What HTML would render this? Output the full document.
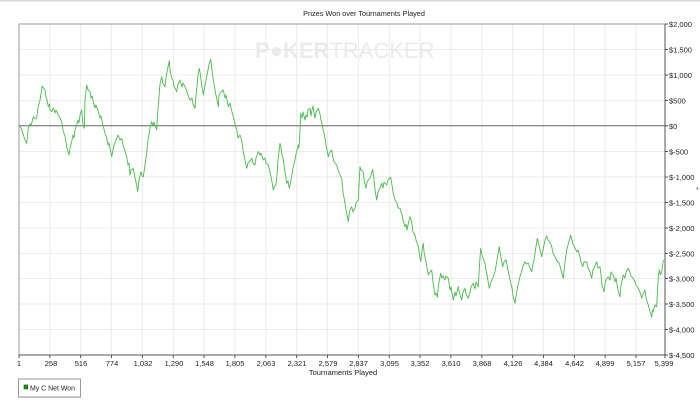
<!DOCTYPE html>
<html><head><meta charset="utf-8">
<style>
html,body{margin:0;padding:0;background:#fff;}
body{width:700px;height:406px;overflow:hidden;position:relative;font-family:"Liberation Sans",Arial,sans-serif;}
svg{position:absolute;left:0;top:0;}
</style></head>
<body>
<svg width="700" height="406" viewBox="0 0 700 406" xmlns="http://www.w3.org/2000/svg" font-family="Liberation Sans, Arial, sans-serif">
<rect x="0" y="0" width="700" height="406" fill="#fff"/>
<rect x="0" y="0" width="700" height="1.5" fill="#d8d8d8"/>
<text x="364" y="16" font-size="7.3" text-anchor="middle" fill="#222">Prizes Won over Tournaments Played</text>
<!-- grid -->
<g stroke="#ececec" stroke-width="1">
<line x1="19" y1="49.5" x2="665" y2="49.5"/>
<line x1="19" y1="75" x2="665" y2="75"/>
<line x1="19" y1="100.5" x2="665" y2="100.5"/>
<line x1="19" y1="151.5" x2="665" y2="151.5"/>
<line x1="19" y1="177" x2="665" y2="177"/>
<line x1="19" y1="202.5" x2="665" y2="202.5"/>
<line x1="19" y1="228" x2="665" y2="228"/>
<line x1="19" y1="253.5" x2="665" y2="253.5"/>
<line x1="19" y1="278.5" x2="665" y2="278.5"/>
<line x1="19" y1="304" x2="665" y2="304"/>
<line x1="19" y1="329.5" x2="665" y2="329.5"/>
<line x1="49.8" y1="24" x2="49.8" y2="355"/>
<line x1="80.6" y1="24" x2="80.6" y2="355"/>
<line x1="111.5" y1="24" x2="111.5" y2="355"/>
<line x1="142.4" y1="24" x2="142.4" y2="355"/>
<line x1="173.3" y1="24" x2="173.3" y2="355"/>
<line x1="204.1" y1="24" x2="204.1" y2="355"/>
<line x1="234.9" y1="24" x2="234.9" y2="355"/>
<line x1="265.8" y1="24" x2="265.8" y2="355"/>
<line x1="296.6" y1="24" x2="296.6" y2="355"/>
<line x1="327.5" y1="24" x2="327.5" y2="355"/>
<line x1="358.4" y1="24" x2="358.4" y2="355"/>
<line x1="389.3" y1="24" x2="389.3" y2="355"/>
<line x1="420" y1="24" x2="420" y2="355"/>
<line x1="450.9" y1="24" x2="450.9" y2="355"/>
<line x1="481.8" y1="24" x2="481.8" y2="355"/>
<line x1="512.6" y1="24" x2="512.6" y2="355"/>
<line x1="543.5" y1="24" x2="543.5" y2="355"/>
<line x1="574.4" y1="24" x2="574.4" y2="355"/>
<line x1="605.1" y1="24" x2="605.1" y2="355"/>
<line x1="636" y1="24" x2="636" y2="355"/>
</g>
<!-- watermark -->
<text x="255" y="58" font-size="22" font-weight="bold" fill="#ebebeb">P<tspan>●</tspan>KER<tspan font-weight="normal">TRACKER</tspan></text>
<!-- frame -->
<rect x="19" y="24" width="646" height="331" fill="none" stroke="#9a9a9a" stroke-width="1"/>
<line x1="665" y1="24" x2="665" y2="355" stroke="#555" stroke-width="1"/>
<line x1="19" y1="355" x2="665" y2="355" stroke="#555" stroke-width="1"/>
<line x1="19" y1="125.8" x2="665" y2="125.8" stroke="#666" stroke-width="1"/>
<!-- series -->
<polyline fill="none" stroke="#4cba4c" stroke-width="0.9" stroke-linejoin="round" points="19,125 21,128 23,134 25,140 26.7,143.3 27.5,136 28.3,128 30,124 31,126 33.3,116.7 35,119 36.7,118 38,108 39,104 40,100 41,94 42.3,86 43.5,88 45,90 46,97 47,100 48.3,106.7 49.5,104 50,110 51.7,111.7 53.3,108 55,113 56,110 58.3,115 60,118 61.7,121.7 63,130 65,136.7 66,142 67,148 69,155 70,148 71.7,141.7 73,135 74,138 75,130 76.7,125 78,120 79,123 80,115 81.7,110 82.5,120 83,125 84.3,128.3 85,100 86.7,85 88,90 90,91.7 91,98 92,96 93.3,101.7 95,108 96,105 98.3,111.7 100,118 101,116 103.3,126.7 105,133 106.7,138 108,145 109,143 111.7,156.7 113,150 114,145 116.7,138.3 118,135 120,140 121.7,138.3 123,145 124,148 126.7,156.7 128,165 129,163 130,175 131,170 133.3,168.3 135,178 136,182 137.7,191.7 139,180 141,171.7 142,176 143.3,176.7 145,165 146.7,153.3 148,140 150,128 151.7,121.7 153,126 154,122 155,125 156.7,130 157.5,115 159,96.7 160,84 161.7,76.7 163,84 165,86.7 166,78 167,72 169.3,60.7 170,70 171.7,78.3 173,80 174,86 176.7,91.7 178,84 180,80 182,87 183,83 185,86.7 187,92 188,95 190,100 192,98 193,104 195,108.3 196,96 198,75 199.3,68.3 200,72 201,80 203.3,95 205,85 207,75 209,65 210.7,59.3 212,70 213,78 214.3,85 215.5,93 217,100 218.3,106.7 219,95 221,92 223.3,90 225,98 226,95 228.3,106.7 230,103 232,112 233.3,116.7 235,124 236.7,130 238,138 240,135 241.7,140 243,150 245,160 246.7,168.3 248,163 250,161 251.7,158.3 253,163 255,165 256,158 258.3,151.7 260,155 261,153 263.3,160 265,158 266,163 268.3,165 270,172 272,182 273.3,190 274.5,186 276,185 277,175 278,160 280,143.3 281,148 282,155 283.3,160 285,172 286.7,183.3 288,181 289.3,188.3 291,180 293.3,166.7 295,160 296,154 298.3,145 299,148 300,130 300.7,113.3 302,118 303,112 305,120 306,115 307,117 308,110 310,108.3 311,116 312,110 313,106 315,118.3 316,112 318.3,108.3 320,114 321,120 323.3,130 325,138 326,145 328.3,156.7 330,152 331.7,150 333,158 334,162 336.7,165 338,170 340,175 341.7,178.3 343,192 345,203.3 346,210 348.3,221.7 349,215 350,210 351.7,206.7 353,212 355,208.3 356,203 358.3,200 359,185 360,166.7 361,170 363.3,171.7 364,180 366,188.3 367,182 368.3,180 370,178 371,175 372.7,169.3 374,180 375,190 376.7,200 378,192 380,188 381.7,183.3 383,188 384,182 386.7,185 388,180 390.7,177.3 392,185 393,192 395,200 397,203 398,208 400,208.3 402,215 403,220 405,226.7 406,224 407,230 408,225 410,216.7 411.7,221.7 413,232 415,235 416,240 418.3,246.7 419,252 420.7,261.7 422,250 423.3,243.3 424,252 426,262 428.3,275 430,272 431.7,270 433,282 435,295 436,293 437.3,297.3 438.5,285 440.7,273.3 442,278 443,276 445,280 446,276 448.3,278.3 450,290 451,287 453.3,300 455,292 456,296 458.3,286.7 460,295 461.7,300 463,292 465,288.3 466,294 468.3,298.3 470,292 471,287 473.3,283.3 475,289 476,282 478.3,286.7 479.5,265 480.7,248.3 482,255 483,258 485,263.3 486,270 487,275 489.3,288.3 491,282 493.3,276.7 495,272 497,260 499.3,246.7 500,252 502.7,266.7 504,262 506,260 508,270 510,280 512,288 513,296 515,303.3 516,296 518,285 520,276.7 522,270 523,266 525,261.7 526,264 528.3,263.3 530,268 531.7,271.7 533,264 534,260 535.5,250 537.3,238.3 539,245 540,250 541.7,256.7 543,250 545,240 546.7,236 548,240 550.7,243.3 552,248 553,253 555,256.7 557,261 559.3,263.3 561,270 563.3,278.3 565,262 566.7,250 568,245 570.7,235 572,240 573,244 575,248.3 577,252 578,250 580,256.7 581,262 582.7,266.7 584,262 586.7,261.7 588,268 590,272 591.7,278.3 593,270 595,266 596.7,261.7 598,268 600,266.7 601,275 602,285 604,291.7 605,284 606,280 608.3,276.7 610,280 611,272 613.3,275 615,282 616,278 618,290 620,296.7 621,285 623.3,275 625,278 626,272 628.3,268.3 630,272 631,276 633.3,278.3 635,282 636,285 638.3,288.3 640,292 641.7,298.3 643,294 645,290 646,298 648.3,305 649.5,310 651.7,317.3 652.5,310 653,312 655,305 656.7,306.7 657.5,290 658.5,275 659.3,270 660.5,275 661.7,271.7 663.3,260"/>
<!-- y ticks -->
<g stroke="#555" stroke-width="1">
<line x1="665" y1="24" x2="668" y2="24"/><line x1="665" y1="49.5" x2="668" y2="49.5"/><line x1="665" y1="75" x2="668" y2="75"/><line x1="665" y1="100.5" x2="668" y2="100.5"/><line x1="665" y1="125.8" x2="668" y2="125.8"/><line x1="665" y1="151.5" x2="668" y2="151.5"/><line x1="665" y1="177" x2="668" y2="177"/><line x1="665" y1="202.5" x2="668" y2="202.5"/><line x1="665" y1="228" x2="668" y2="228"/><line x1="665" y1="253.5" x2="668" y2="253.5"/><line x1="665" y1="278.5" x2="668" y2="278.5"/><line x1="665" y1="304" x2="668" y2="304"/><line x1="665" y1="329.5" x2="668" y2="329.5"/><line x1="665" y1="355" x2="668" y2="355"/>
</g>
<g font-size="7.5" fill="#222">
<text x="669" y="27">$2,000</text>
<text x="669" y="52.5">$1,500</text>
<text x="669" y="78">$1,000</text>
<text x="669" y="103.5">$500</text>
<text x="669" y="129">$0</text>
<text x="669" y="154.5">$-500</text>
<text x="669" y="180">$-1,000</text>
<text x="669" y="205.5">$-1,500</text>
<text x="669" y="231">$-2,000</text>
<text x="669" y="256.5">$-2,500</text>
<text x="669" y="281.5">$-3,000</text>
<text x="669" y="307">$-3,500</text>
<text x="669" y="332.5">$-4,000</text>
<text x="669" y="358">$-4,500</text>
</g>
<text x="696" y="192" font-size="7" fill="#444">*</text>
<!-- x ticks -->
<g stroke="#555" stroke-width="1">
<line x1="19" y1="355" x2="19" y2="358"/><line x1="49.8" y1="355" x2="49.8" y2="358"/><line x1="80.6" y1="355" x2="80.6" y2="358"/><line x1="111.5" y1="355" x2="111.5" y2="358"/><line x1="142.4" y1="355" x2="142.4" y2="358"/><line x1="173.3" y1="355" x2="173.3" y2="358"/><line x1="204.1" y1="355" x2="204.1" y2="358"/><line x1="234.9" y1="355" x2="234.9" y2="358"/><line x1="265.8" y1="355" x2="265.8" y2="358"/><line x1="296.6" y1="355" x2="296.6" y2="358"/><line x1="327.5" y1="355" x2="327.5" y2="358"/><line x1="358.4" y1="355" x2="358.4" y2="358"/><line x1="389.3" y1="355" x2="389.3" y2="358"/><line x1="420" y1="355" x2="420" y2="358"/><line x1="450.9" y1="355" x2="450.9" y2="358"/><line x1="481.8" y1="355" x2="481.8" y2="358"/><line x1="512.6" y1="355" x2="512.6" y2="358"/><line x1="543.5" y1="355" x2="543.5" y2="358"/><line x1="574.4" y1="355" x2="574.4" y2="358"/><line x1="605.1" y1="355" x2="605.1" y2="358"/><line x1="636" y1="355" x2="636" y2="358"/><line x1="665" y1="355" x2="665" y2="358"/>
</g>
<g font-size="7.5" fill="#222" text-anchor="middle">
<text x="19" y="366">1</text>
<text x="51" y="366">258</text>
<text x="81" y="366">516</text>
<text x="112" y="366">774</text>
<text x="143" y="366">1,032</text>
<text x="174" y="366">1,290</text>
<text x="204.5" y="366">1,548</text>
<text x="235" y="366">1,805</text>
<text x="266" y="366">2,063</text>
<text x="297" y="366">2,321</text>
<text x="328" y="366">2,579</text>
<text x="358.5" y="366">2,837</text>
<text x="389.5" y="366">3,095</text>
<text x="420" y="366">3,352</text>
<text x="451" y="366">3,610</text>
<text x="482" y="366">3,868</text>
<text x="513" y="366">4,126</text>
<text x="543.5" y="366">4,384</text>
<text x="574.5" y="366">4,642</text>
<text x="605" y="366">4,899</text>
<text x="636" y="366">5,157</text>
<text x="664" y="366">5,399</text>
</g>
<text x="343" y="375" font-size="7.5" fill="#222" text-anchor="middle">Tournaments Played</text>
<!-- legend -->
<rect x="18.5" y="379" width="62" height="18" fill="#fff" stroke="#999" stroke-width="1"/>
<line x1="19" y1="397.5" x2="81" y2="397.5" stroke="#bbb" stroke-width="1"/>
<rect x="24" y="385" width="3.8" height="4" fill="#1f8f1f" stroke="#0a5a0a" stroke-width="0.6"/>
<text x="30" y="390.5" font-size="7" fill="#222" textLength="45" lengthAdjust="spacingAndGlyphs">My C Net Won</text>
</svg>
</body></html>
